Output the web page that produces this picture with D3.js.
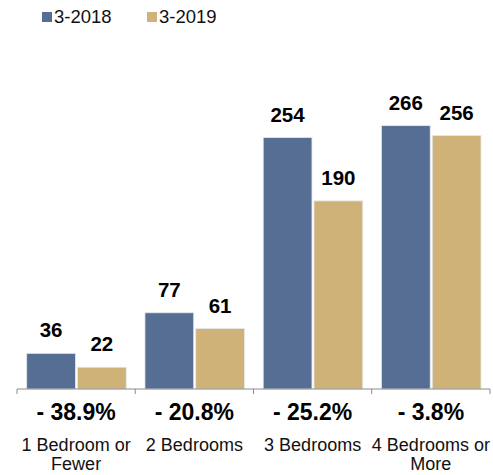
<!DOCTYPE html>
<html>
<head>
<meta charset="utf-8">
<script src="https://cdn.jsdelivr.net/npm/d3@7/dist/d3.min.js"></script>
<style>
html,body{margin:0;padding:0;background:#fff;}
svg{display:block;font-family:"Liberation Sans",Arial,Helvetica,sans-serif;}
</style>
</head>
<body>
<svg id="chart" width="493" height="475"></svg>
<script>
const categories = ["1 Bedroom or Fewer", "2 Bedrooms", "3 Bedrooms", "4 Bedrooms or More"];
const categoryLines = [["1 Bedroom or", "Fewer"], ["2 Bedrooms"], ["3 Bedrooms"], ["4 Bedrooms or", "More"]];
const seriesNames = ["3-2018", "3-2019"];
const values2018 = [36, 77, 254, 266];
const values2019 = [22, 61, 190, 256];
const changeLabels = ["- 38.9%", "- 20.8%", "- 25.2%", "- 3.8%"];
const colors = ["#566e93", "#cfb277"];

const svg = d3.select("#chart");
const baseY = 389;
const x0 = d3.scaleBand().domain(categories).range([17, 490]).padding(0);
const bw = x0.bandwidth();
const x1 = d3.scaleBand().domain(seriesNames).range([9.7, bw - 9]).paddingInner(0.04);
const y = d3.scaleLinear().domain([0, 300]).range([baseY, 92]);
const color = d3.scaleOrdinal().domain(seriesNames).range(colors);

const seriesVals = [values2018, values2019];
const data = categories.map((c, i) => ({
  cat: c,
  vals: seriesNames.map((s, j) => ({ s, v: seriesVals[j][i] }))
}));

// bars
const g = svg.append("g");
const groups = g.selectAll("g.grp").data(data).enter().append("g")
  .attr("transform", d => `translate(${x0(d.cat)},0)`);
groups.selectAll("rect").data(d => d.vals).enter().append("rect")
  .attr("x", d => x1(d.s))
  .attr("y", d => y(d.v))
  .attr("width", x1.bandwidth())
  .attr("height", d => baseY - y(d.v))
  .attr("fill", d => color(d.s))
  .attr("stroke", "#e4e8ee")
  .attr("stroke-width", 0.8);
groups.selectAll("text.val").data(d => d.vals).enter().append("text")
  .attr("class", "val")
  .attr("x", d => x1(d.s) + x1.bandwidth() / 2)
  .attr("y", d => y(d.v) - 16)
  .attr("text-anchor", "middle")
  .attr("font-weight", "bold")
  .attr("font-size", 20.5)
  .attr("fill", "#000")
  .text(d => d.v);

// axis
const axis = d3.axisBottom(x0).tickSize(5).tickFormat("");
const ag = svg.append("g").attr("transform", `translate(0,${baseY})`).call(axis);
ag.select(".domain").remove();
ag.selectAll(".tick").remove();
ag.append("line").attr("x1", 17).attr("x2", 490).attr("y1", 0).attr("y2", 0)
  .attr("stroke", "#8a8a8a").attr("stroke-width", 1);
const bounds = categories.map(c => x0(c)).concat([x0(categories[categories.length - 1]) + bw]);
ag.selectAll("line.tk").data(bounds).enter().append("line")
  .attr("class", "tk")
  .attr("x1", d => d).attr("x2", d => d)
  .attr("y1", 0).attr("y2", 5)
  .attr("stroke", "#8a8a8a").attr("stroke-width", 1);

// change labels
svg.selectAll("text.chg").data(categories).enter().append("text")
  .attr("class", "chg")
  .attr("x", c => x0(c) + bw / 2)
  .attr("y", 420)
  .attr("text-anchor", "middle")
  .attr("font-weight", "bold")
  .attr("font-size", 23)
  .attr("fill", "#000")
  .text((c, i) => changeLabels[i]);

// category labels
const cl = svg.selectAll("text.cat").data(categories).enter().append("text")
  .attr("class", "cat")
  .attr("x", c => x0(c) + bw / 2)
  .attr("y", 451)
  .attr("text-anchor", "middle")
  .attr("font-size", 18)
  .attr("fill", "#111");
cl.each(function (c, i) {
  const t = d3.select(this);
  categoryLines[i].forEach((ln, k) => {
    t.append("tspan").attr("x", x0(c) + bw / 2).attr("dy", k === 0 ? 0 : 19).text(ln);
  });
});

// legend
const legX = [42, 147];
const lg = svg.selectAll("g.leg").data(seriesNames).enter().append("g")
  .attr("transform", (d, i) => `translate(${legX[i]},0)`);
lg.append("rect").attr("x", 0).attr("y", 12).attr("width", 10).attr("height", 10)
  .attr("fill", d => color(d));
lg.append("text").attr("x", 12).attr("y", 22.5).attr("font-size", 18.5).attr("fill", "#111")
  .text(d => d);
</script>
</body>
</html>
